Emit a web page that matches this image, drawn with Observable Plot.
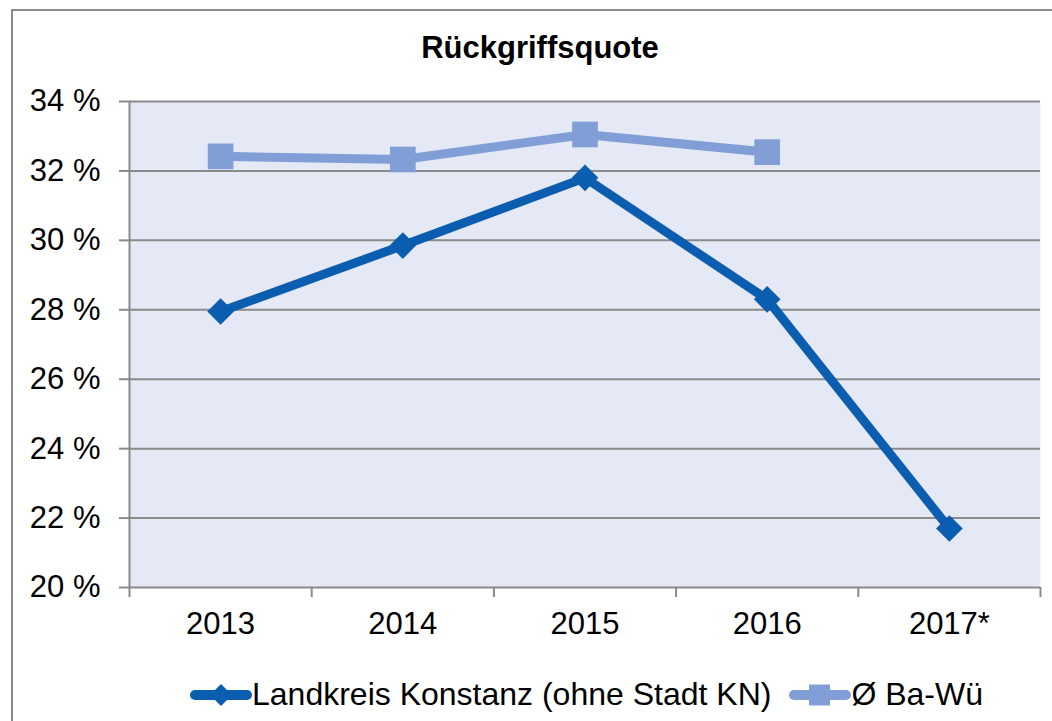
<!DOCTYPE html>
<html>
<head>
<meta charset="utf-8">
<script src="https://cdn.jsdelivr.net/npm/d3@7"></script>
<script src="https://cdn.jsdelivr.net/npm/@observablehq/plot@0.6"></script>
<style>
  html, body { margin: 0; padding: 0; background: #fff; overflow: hidden; }
  body { width: 1052px; height: 721px; position: relative; font-family: "Liberation Sans", Arial, sans-serif; }
  #frame { position: absolute; left: 11px; top: 9px; width: 1200px; height: 900px; border-left: 2px solid #8c8c8c; border-top: 2px solid #8c8c8c; box-sizing: border-box; }
  #chart { position: absolute; left: 0; top: 0; }
  #title { position: absolute; left: 0; width: 1080px; top: 30px; text-align: center; font-weight: bold; font-size: 31px; line-height: 36px; color: #000; }
  #legend { position: absolute; top: 676px; left: 190px; display: flex; align-items: center; font-size: 32px; color: #000; white-space: nowrap; }
  #legend .item { display: flex; align-items: center; }
  #legend svg { display: block; }
</style>
</head>
<body>
<div id="frame"></div>
<div id="chart"></div>
<div id="title"></div>
<div id="legend"></div>
<script>
const title = "Rückgriffsquote";
const years = ["2013", "2014", "2015", "2016", "2017*"];
const seriesNames = ["Landkreis Konstanz (ohne Stadt KN)", "Ø Ba-Wü"];
const landkreis = [27.95, 29.85, 31.8, 28.3, 21.7];
const baWue = [32.42, 32.33, 33.05, 32.54, null];
const yTicks = [20, 22, 24, 26, 28, 30, 32, 34];
const colors = ["#0B5DAF", "#819FD6"];

const rowsA = years.map((y, i) => ({i, year: y, v: landkreis[i]}));
const rowsB = years.map((y, i) => ({i, year: y, v: baWue[i]})).filter(d => d.v != null);
const idx = years.map((_, i) => i);
const bounds = [-0.5, ...idx.map(i => i + 0.5)];

const grid = "#8a8a8a";
const chart = Plot.plot({
  width: 1052,
  height: 721,
  marginTop: 101,
  marginBottom: 134,
  marginLeft: 129,
  marginRight: 12,
  style: {fontFamily: '"Liberation Sans", Arial, sans-serif', background: "transparent", color: "#000"},
  x: {type: "linear", domain: [-0.5, years.length - 0.5]},
  y: {domain: [20, 34]},
  marks: [
    Plot.frame({fill: "#E5E9F5", stroke: null}),
    Plot.ruleY(yTicks, {stroke: grid, strokeWidth: 2}),
    Plot.ruleX([-0.5], {stroke: grid, strokeWidth: 2}),
    Plot.axisY({ticks: yTicks, tickFormat: d => `${d} %`, tickSize: 10, tickPadding: 19, fontSize: 31, stroke: grid, strokeWidth: 2, fill: "#000", label: null}),
    Plot.axisX({ticks: bounds, tickFormat: () => "", tickSize: 10, stroke: grid, strokeWidth: 2, label: null}),
    Plot.axisX({ticks: idx, tickFormat: i => years[i], tickSize: 0, tickPadding: 24, fontSize: 31, fill: "#000", label: null}),
    Plot.line(rowsB, {x: "i", y: "v", stroke: colors[1], strokeWidth: 9, strokeLinejoin: "round"}),
    Plot.dot(rowsB, {x: "i", y: "v", symbol: "square", r: 14.5, fill: colors[1], stroke: null}),
    Plot.line(rowsA, {x: "i", y: "v", stroke: colors[0], strokeWidth: 9, strokeLinejoin: "round"}),
    Plot.dot(rowsA, {x: "i", y: "v", symbol: "diamond2", r: 12, fill: colors[0], stroke: null})
  ]
});
document.getElementById("chart").appendChild(chart);
document.getElementById("title").textContent = title;

// legend
const legend = document.getElementById("legend");
function sample(color, kind) {
  const ns = "http://www.w3.org/2000/svg";
  const s = document.createElementNS(ns, "svg");
  s.setAttribute("width", 62); s.setAttribute("height", 30);
  const l = document.createElementNS(ns, "line");
  l.setAttribute("x1", 5); l.setAttribute("x2", 57); l.setAttribute("y1", 15); l.setAttribute("y2", 15);
  l.setAttribute("stroke", color); l.setAttribute("stroke-width", 10); l.setAttribute("stroke-linecap", "round");
  s.appendChild(l);
  let m;
  if (kind === "diamond") {
    m = document.createElementNS(ns, "path");
    m.setAttribute("d", "M31,4 L42,15 L31,26 L20,15 Z");
  } else {
    m = document.createElementNS(ns, "rect");
    m.setAttribute("x", 20); m.setAttribute("y", 4.5); m.setAttribute("width", 21); m.setAttribute("height", 21);
  }
  m.setAttribute("fill", color);
  s.appendChild(m);
  return s;
}
seriesNames.forEach((name, k) => {
  const it = document.createElement("div");
  it.className = "item";
  if (k > 0) it.style.marginLeft = "18px";
  it.appendChild(sample(colors[k], k === 0 ? "diamond" : "square"));
  const t = document.createElement("span");
  t.textContent = name;
  it.appendChild(t);
  legend.appendChild(it);
});
</script>
</body>
</html>
